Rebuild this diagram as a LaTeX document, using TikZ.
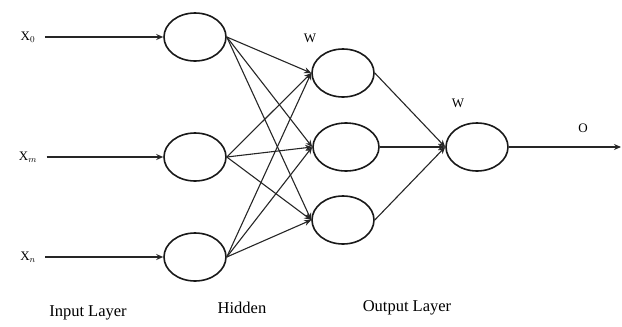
\documentclass[tikz,border=0pt]{standalone}
\usepackage{fontspec}
\setmainfont{Liberation Serif}
\usetikzlibrary{positioning,arrows.meta,shapes.geometric}

\begin{document}
\begin{tikzpicture}[
  x=1pt,y=-1pt,
  font=\fontsize{16.5}{19}\selectfont,
  neuron/.style={ellipse,draw=black!90,line width=1.6pt,minimum width=62pt,minimum height=48pt,inner sep=0pt},
  inlbl/.style={font=\fontsize{13}{15}\selectfont,anchor=center},
  wlbl/.style={font=\fontsize{13}{15}\selectfont},
  arr/.style={-{Stealth[length=7pt,width=6pt]},line width=1.1pt,black!85},
]
\useasboundingbox (0,0) rectangle (622,327);

% ---------- input layer ----------
\node[neuron] (in0) at (195,37)  {};
\node[neuron] (in1) at (195,157) {};
\node[neuron] (in2) at (195,257) {};

\node[inlbl] (x0) at (28,37)  {X$_0$};
\node[inlbl] (x1) at (28,157) {X$_m$};
\node[inlbl] (x2) at (28,257) {X$_n$};

\draw[arr] (x0.east) ++(6,0) coordinate (s0) (s0) -- (in0.west);
\draw[arr] (x1.east) ++(6,0) coordinate (s1) (s1) -- (in1.west);
\draw[arr] (x2.east) ++(6,0) coordinate (s2) (s2) -- (in2.west);

% ---------- hidden layer ----------
\node[neuron] (h0) at (343,73)  {};
\node[neuron,minimum width=66pt] (h1) at (346,147) {};
\node[neuron] (h2) at (343,220) {};

\foreach \i in {0,1,2} {
  \foreach \j in {0,1,2} {
    \draw[arr] (in\i.east) -- (h\j.west);
  }
}
\node[wlbl] (w1) at (310,38) {W};

% ---------- output layer ----------
\node[neuron] (o) at (477,147) {};
\foreach \j in {0,1,2}
  \draw[arr] (h\j.east) -- (o.west);
\node[wlbl] (w2) at (458,103) {W};

\coordinate (oend) at (621,147);
\draw[arr] (o.east) -- (oend);
\node[wlbl] (olbl) at (583,128) {O};

% ---------- captions ----------
\node (capin)  at (88,313)  {Input Layer};
\node (caphid) at (242,308) {Hidden};
\node (capout) at (407,308) {Output Layer};
\end{tikzpicture}
\end{document}
